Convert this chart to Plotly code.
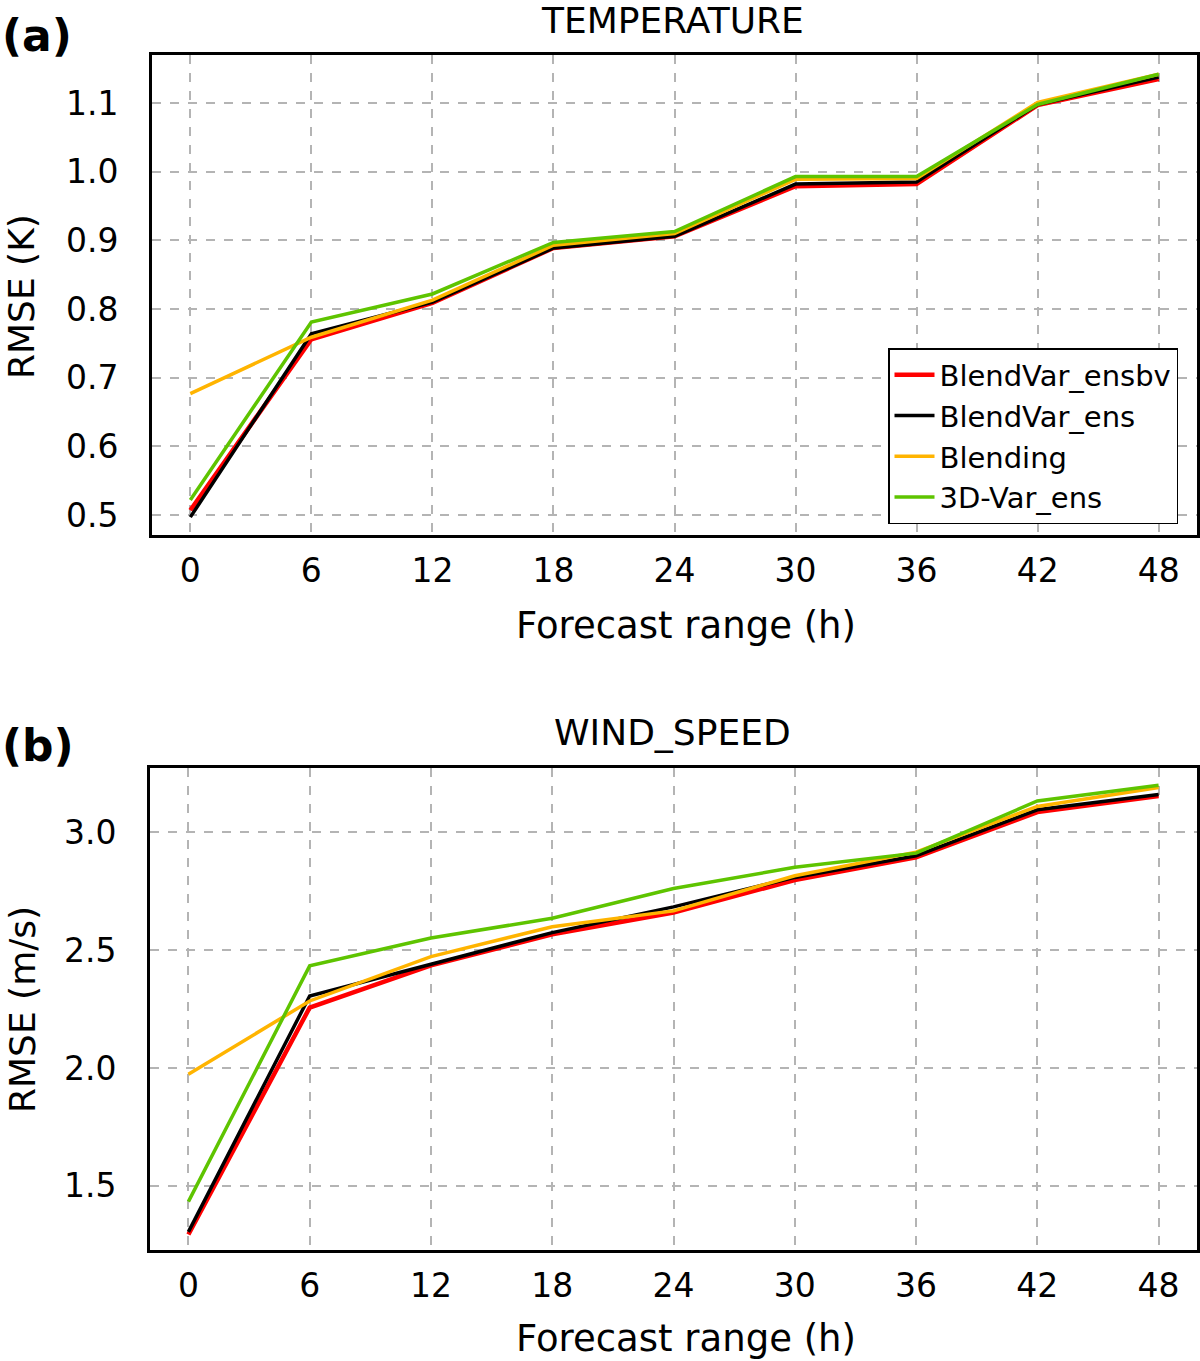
import plotly.graph_objects as go

# forecast ranges (h)
hours = [0, 6, 12, 18, 24, 30, 36, 42, 48]
series_names = ["BlendVar_ensbv", "BlendVar_ens", "Blending", "3D-Var_ens"]
series_colors = ["#ff0000", "#000000", "#ffb400", "#5ec400"]
series_widths = [4.5, 3.5, 3.5, 3.5]

# RMSE temperature (K)
temp_ensbv = [0.507, 0.756, 0.809, 0.889, 0.906, 0.979, 0.982, 1.097, 1.135]
temp_ens = [0.497, 0.764, 0.810, 0.889, 0.906, 0.982, 0.985, 1.098, 1.138]
temp_blending = [0.677, 0.759, 0.813, 0.893, 0.910, 0.989, 0.990, 1.101, 1.142]
temp_3dvar = [0.522, 0.781, 0.822, 0.897, 0.913, 0.993, 0.993, 1.098, 1.142]

# RMSE wind speed (m/s)
wind_ensbv = [1.294, 2.256, 2.435, 2.567, 2.659, 2.797, 2.893, 3.085, 3.153]
wind_ens = [1.305, 2.305, 2.440, 2.574, 2.683, 2.808, 2.900, 3.095, 3.160]
wind_blending = [1.973, 2.284, 2.472, 2.599, 2.666, 2.815, 2.915, 3.109, 3.189]
wind_3dvar = [1.433, 2.433, 2.551, 2.635, 2.761, 2.851, 2.911, 3.132, 3.199]

temp_ticks = [0.5, 0.6, 0.7, 0.8, 0.9, 1.0, 1.1]
temp_ticklabels = ["0.5", "0.6", "0.7", "0.8", "0.9", "1.0", "1.1"]
wind_ticks = [1.5, 2.0, 2.5, 3.0]
wind_ticklabels = ["1.5", "2.0", "2.5", "3.0"]

W, H = 1200, 1361
FONT = "DejaVu Sans"

fig = go.Figure()

temp_data = [temp_ensbv, temp_ens, temp_blending, temp_3dvar]
wind_data = [wind_ensbv, wind_ens, wind_blending, wind_3dvar]

for name, color, lw, vals in zip(series_names, series_colors, series_widths, temp_data):
    fig.add_trace(go.Scatter(x=hours, y=vals, mode="lines", name=name,
                             line=dict(color=color, width=lw),
                             xaxis="x", yaxis="y", showlegend=True))

for name, color, lw, vals in zip(series_names, series_colors, series_widths, wind_data):
    fig.add_trace(go.Scatter(x=hours, y=vals, mode="lines", name=name,
                             line=dict(color=color, width=lw),
                             xaxis="x2", yaxis="y2", showlegend=False))


def px_x(v):
    return v / W


def px_y(v):
    return 1 - v / H


axis_common = dict(
    showline=True, linecolor="black", linewidth=3, mirror=True,
    showgrid=True, gridcolor="#b4b4b4", gridwidth=1.5, griddash="dash",
    zeroline=False, ticks="", tickfont=dict(family=FONT, size=33, color="black"),
)

fig.update_layout(
    width=W, height=H,
    paper_bgcolor="white", plot_bgcolor="white",
    margin=dict(l=0, r=0, t=0, b=0),
    font=dict(family=FONT, color="black"),
    xaxis=dict(domain=[px_x(152), px_x(1197)], range=[-1.9, 49.9],
               tickvals=hours, anchor="y", ticklabelstandoff=4, **axis_common),
    yaxis=dict(domain=[px_y(535), px_y(55)], range=[0.471, 1.170],
               tickvals=temp_ticks, ticktext=temp_ticklabels, anchor="x",
               ticklabelstandoff=24, **axis_common),
    xaxis2=dict(domain=[px_x(150), px_x(1197)], range=[-1.9, 49.9],
                tickvals=hours, anchor="y2", ticklabelstandoff=4, **axis_common),
    yaxis2=dict(domain=[px_y(1250), px_y(768)], range=[1.228, 3.272],
                tickvals=wind_ticks, ticktext=wind_ticklabels, anchor="x2",
                ticklabelstandoff=24, **axis_common),
    legend=dict(x=px_x(1178), y=px_y(436), xanchor="right", yanchor="middle",
                bordercolor="black", borderwidth=1.5, bgcolor="white",
                font=dict(family=FONT, size=29, color="black"),
                tracegroupgap=0, itemwidth=40),
)

annotations = [
    dict(text="<b>(a)</b>", x=px_x(0), y=px_y(35), xanchor="left", yanchor="middle",
         font=dict(size=44)),
    dict(text="TEMPERATURE", x=px_x(672), y=px_y(21), xanchor="center", yanchor="middle",
         font=dict(size=36)),
    dict(text="RMSE (K)", x=px_x(22), y=px_y(297), xanchor="center", yanchor="middle",
         textangle=-90, font=dict(size=36)),
    dict(text="Forecast range (h)", x=px_x(686), y=px_y(625), xanchor="center",
         yanchor="middle", font=dict(size=37)),
    dict(text="<b>(b)</b>", x=px_x(0), y=px_y(745), xanchor="left", yanchor="middle",
         font=dict(size=44)),
    dict(text="WIND_SPEED", x=px_x(672), y=px_y(732), xanchor="center", yanchor="middle",
         font=dict(size=36)),
    dict(text="RMSE (m/s)", x=px_x(22), y=px_y(1010), xanchor="center", yanchor="middle",
         textangle=-90, font=dict(size=36)),
    dict(text="Forecast range (h)", x=px_x(686), y=px_y(1338), xanchor="center",
         yanchor="middle", font=dict(size=37)),
]
for a in annotations:
    a.update(xref="paper", yref="paper", showarrow=False)
    a["font"].update(family=FONT, color="black")
fig.update_layout(annotations=annotations)

# drop the browser's default body margin so the figure fills the window
fig.write_html("out.html", config={"displayModeBar": False},
               post_script="document.body.style.margin='0px';")
